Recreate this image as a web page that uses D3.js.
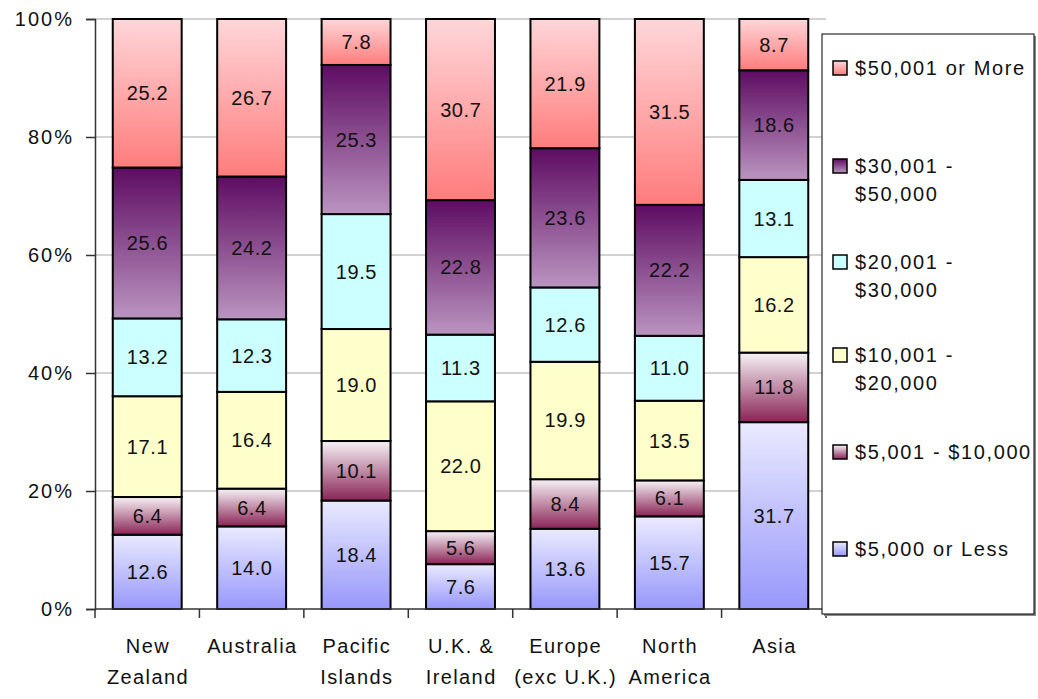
<!DOCTYPE html>
<html><head><meta charset="utf-8">
<script src="https://cdn.jsdelivr.net/npm/d3@7"></script>
<style>body{margin:0;background:#fff}svg{display:block}text{font-family:"Liberation Sans",Arial,sans-serif;fill:#111}</style>
</head><body>
<svg id="c" width="1038" height="699"></svg>
<script>
const categories = ["New\nZealand","Australia","Pacific\nIslands","U.K. &\nIreland","Europe\n(exc U.K.)","North\nAmerica","Asia"];
const seriesNames = ["$5,000 or Less","$5,001 - $10,000","$10,001 - $20,000","$20,001 - $30,000","$30,001 - $50,000","$50,001 or More"];
const legendLabels = [["$50,001 or More"],["$30,001 -","$50,000"],["$20,001 -","$30,000"],["$10,001 -","$20,000"],["$5,001 - $10,000"],["$5,000 or Less"]];
const s1 = [12.6,14.0,18.4,7.6,13.6,15.7,31.7];
const s2 = [6.4,6.4,10.1,5.6,8.4,6.1,11.8];
const s3 = [17.1,16.4,19.0,22.0,19.9,13.5,16.2];
const s4 = [13.2,12.3,19.5,11.3,12.6,11.0,13.1];
const s5 = [25.6,24.2,25.3,22.8,23.6,22.2,18.6];
const s6 = [25.2,26.7,7.8,30.7,21.9,31.5,8.7];
const yTicks = [0,20,40,60,80,100];
const gradStops = [["#EAEAFF","#9797FB"],["#F6F2F6","#8A2456"],["#FFFFCC","#FFFFCC"],["#CCFFFF","#CCFFFF"],["#5E0C62","#BA94C0"],["#FFD6D9","#FF7C7C"]];

const series = [s1,s2,s3,s4,s5,s6];
const svg = d3.select("#c");
const defs = svg.append("defs");
gradStops.forEach((g,i)=>{
  const lg = defs.append("linearGradient").attr("id","g"+i).attr("x1",0).attr("y1",0).attr("x2",0).attr("y2",1);
  lg.append("stop").attr("offset","0%").attr("stop-color",g[0]);
  lg.append("stop").attr("offset","100%").attr("stop-color",g[1]);
});

const L=95,R=826,T=19,B=609;
const x = d3.scaleBand().domain(d3.range(categories.length)).range([L,R]).paddingInner(0.34).paddingOuter(0.17);
const y = d3.scaleLinear().domain([0,100]).range([B,T]);

// gridlines
svg.append("g").selectAll("line").data(yTicks.filter(d=>d>0)).join("line")
  .attr("x1",L).attr("x2",R).attr("y1",d=>y(d)).attr("y2",d=>y(d))
  .attr("stroke","#A6A6A6").attr("stroke-width",1.2);

// bars
const stacks = categories.map((c,ci)=>{
  const vals = series.map(s=>s[ci]);
  const tot = d3.sum(vals);
  let acc=0;
  return vals.map((v,si)=>{const y0=acc/tot*100; acc+=v; return {ci,si,v,y0,y1:acc/tot*100};});
}).flat();

const bars = svg.append("g");
bars.selectAll("rect").data(stacks).join("rect")
  .attr("x",d=>x(d.ci)).attr("width",x.bandwidth())
  .attr("y",d=>y(d.y1)).attr("height",d=>y(d.y0)-y(d.y1))
  .attr("fill",d=>`url(#g${d.si})`).attr("stroke","#000").attr("stroke-width",2);
bars.selectAll("text").data(stacks).join("text")
  .attr("x",d=>x(d.ci)+x.bandwidth()/2+0.3).attr("y",d=>(y(d.y0)+y(d.y1))/2)
  .attr("text-anchor","middle").attr("dominant-baseline","central")
  .attr("font-size",20).attr("letter-spacing",0.6).text(d=>d.v.toFixed(1));

// axes
const ya = svg.append("g").attr("transform",`translate(${L},0)`)
  .call(d3.axisLeft(y).tickValues(yTicks).tickFormat(d=>d+"%").tickSize(9).tickPadding(12));
ya.select(".domain").attr("stroke","#333").attr("stroke-width",1.5);
ya.selectAll(".tick line").attr("stroke","#333").attr("stroke-width",1.5);
ya.selectAll("text").attr("font-size",20).attr("letter-spacing",2).style("font-family","'Liberation Sans',Arial,sans-serif").attr("fill","#111");

const xa = svg.append("g").attr("transform",`translate(0,${B})`);
xa.append("line").attr("x1",L).attr("x2",R).attr("stroke","#333").attr("stroke-width",1.5);
xa.selectAll("line.t").data(d3.range(categories.length+1)).join("line").attr("class","t")
  .attr("x1",i=>L+(R-L)*i/categories.length).attr("x2",i=>L+(R-L)*i/categories.length)
  .attr("y1",0).attr("y2",9).attr("stroke","#333").attr("stroke-width",1.5);
categories.forEach((c,i)=>{
  const cx = x(i)+x.bandwidth()/2+0.7;
  const t = xa.append("text").attr("x",cx).attr("y",44).attr("text-anchor","middle").attr("font-size",20).attr("letter-spacing",1.4);
  c.split("\n").forEach((ln,k)=>t.append("tspan").attr("x",cx).attr("dy",k?31:0).text(ln));
});

// legend
const lg = svg.append("g");
lg.append("rect").attr("x",824).attr("y",36).attr("width",212).attr("height",580).attr("fill","#888");
lg.append("rect").attr("x",822).attr("y",34).attr("width",212).attr("height",580).attr("fill","#fff").attr("stroke","#000").attr("stroke-width",1);
const legY = [68,166,262,355,452,549];
legendLabels.forEach((lab,k)=>{
  const si = seriesNames.length-1-k;
  lg.append("rect").attr("x",833).attr("y",legY[k]-7).attr("width",14).attr("height",14)
    .attr("fill",`url(#g${si})`).attr("stroke","#000").attr("stroke-width",1.5);
  const t = lg.append("text").attr("x",855).attr("y",legY[k]).attr("dominant-baseline","central").attr("font-size",20).attr("letter-spacing",1.6);
  lab.forEach((ln,j)=>t.append("tspan").attr("x",855).attr("dy",j?28:0).text(ln));
});
</script>
</body></html>
